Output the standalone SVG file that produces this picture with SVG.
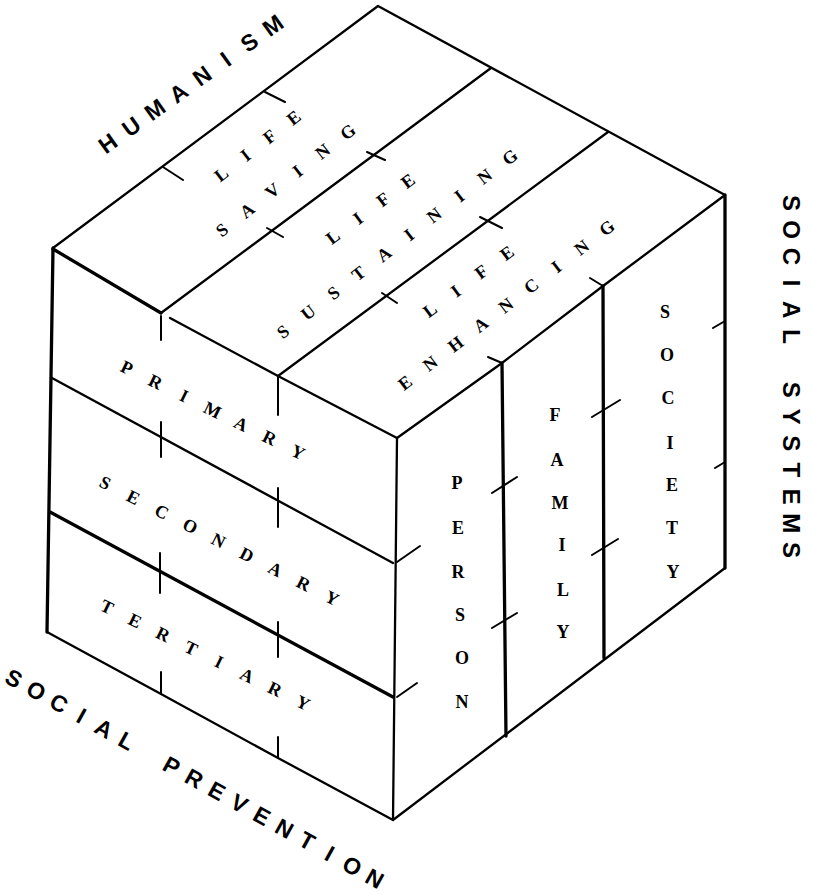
<svg xmlns="http://www.w3.org/2000/svg" width="813" height="895" viewBox="0 0 813 895">
<style>
.ln{stroke:#000;stroke-width:2.3;fill:none;stroke-linecap:round;stroke-linejoin:round}
.thk{stroke-width:3.3}
.tk{stroke:#000;stroke-width:2;fill:none;stroke-linecap:round}
.cell{font-family:"Liberation Serif","DejaVu Serif",serif;font-weight:bold;font-size:18px;fill:#000;text-anchor:middle}
.title{font-family:"Liberation Sans","DejaVu Sans",sans-serif;font-weight:bold;font-size:23px;fill:#000;text-anchor:middle}
</style>
<rect width="813" height="895" fill="#fff"/>
<g id="connectors">
  <g id="cube-edges">
    <path class="ln" d="M53,248 L378,6 L725,195"/>
    <path class="ln thk" d="M53,249 L161,313"/>
    <path class="ln" d="M170,318 L278,376 L397,438"/>
    <path class="ln" d="M397,438 L502,363 L603,286 L725,195"/>
    <path class="ln thk" d="M53,248 L47,632"/>
    <path class="ln" d="M397,438 L393,820"/>
    <path class="ln thk" d="M725,195 L725,568"/>
    <path class="ln" d="M47,632 L161,694 L278,758 L393,820 L725,568"/>
  </g>
  <g id="grid-lines">
    <path class="ln" d="M161,313 L491,68"/>
    <path class="ln" d="M278,376 L608,132"/>
    <path class="ln" d="M52,378 L393,563"/>
    <path class="ln thk" d="M50,512 L393,697"/>
    <path class="ln thk" d="M502,363 L506,736"/>
    <path class="ln thk" d="M603,286 L604,658"/>
  </g>
  <g id="ticks">
    <path class="tk" d="M163,167 L183,180 M265,92 L285,102"/>
    <path class="tk" d="M267,228 L283,237 M367,152 L385,160 M382,293 L397,303 M480,217 L502,228"/>
    <path class="tk" d="M488,357 L502,363 M590,278 L603,286"/>
    <path class="tk" d="M161,316 L161,340 M161,422 L161,457 M160,553 L160,593 M161,672 L161,694"/>
    <path class="tk" d="M278,376 L278,415 M278,488 L278,527 M278,622 L278,657 M278,737 L278,758"/>
    <path class="tk" d="M397,562 L420,546 M397,697 L417,683"/>
    <path class="tk" d="M492,493 L517,477 M492,628 L517,613"/>
    <path class="tk" d="M592,417 L620,400 M592,555 L618,539"/>
    <path class="tk" d="M713,328 L725,321 M715,468 L725,462"/>
  </g>
</g>
<g id="humanism" transform="translate(190,84) rotate(-35.6)">
  <text class="title" x="-101.5 -72.5 -43.5 -14.5 14.5 43.5 72.5 101.5" y="8.5">HUMANISM</text>
</g>
<g id="social-systems" transform="translate(791,376.5) rotate(90)">
  <text class="title" style="font-size:24px" x="-173.55 -146.85 -120.15 -93.45 -66.75 -40.05 -13.35 13.35 40.05 66.75 93.45 120.15 146.85 173.55" y="8.5">SOCIAL SYSTEMS</text>
</g>
<g id="social-prevention" transform="translate(194.5,778) rotate(29)">
  <text class="title" x="-206.4 -180.6 -154.8 -129 -103.2 -77.4 -51.6 -25.8 0 25.8 51.6 77.4 103.2 129 154.8 180.6 206.4" y="8.5">SOCIAL PREVENTION</text>
</g>
<g id="life-saving">
  <g transform="translate(257.5,146) rotate(-38)"><text class="cell" x="-45.9 -15.3 15.3 45.9" y="6">LIFE</text></g>
  <g transform="translate(285,181) rotate(-37.9)"><text class="cell" x="-79.8 -47.9 -16 16 47.9 79.8" y="6">SAVING</text></g>
</g>
<g id="life-sustaining">
  <g transform="translate(370.5,209) rotate(-36.7)"><text class="cell" x="-46.8 -15.6 15.6 46.8" y="6">LIFE</text></g>
  <g transform="translate(396.5,244.5) rotate(-37.6)"><text class="cell" x="-143.1 -111.3 -79.5 -47.7 -15.9 15.9 47.7 79.5 111.3 143.1" y="6">SUSTAINING</text></g>
</g>
<g id="life-enhancing">
  <g transform="translate(468.5,281.5) rotate(-36.5)"><text class="cell" x="-47.9 -16 16 47.9" y="6">LIFE</text></g>
  <g transform="translate(506,305.5) rotate(-37.5)"><text class="cell" x="-127.2 -95.4 -63.6 -31.8 0 31.8 63.6 95.4 127.2" y="6">ENHANCING</text></g>
</g>
<g id="primary" transform="translate(212.5,410) rotate(26.2)">
  <text class="cell" x="-95.4 -63.6 -31.8 0 31.8 63.6 95.4" y="6">PRIMARY</text>
</g>
<g id="secondary" transform="translate(218.5,540.5) rotate(26.9)">
  <text class="cell" x="-127.2 -95.4 -63.6 -31.8 0 31.8 63.6 95.4 127.2" y="6">SECONDARY</text>
</g>
<g id="tertiary" transform="translate(205,655) rotate(26.1)">
  <text class="cell" x="-109.2 -78 -46.8 -15.6 15.6 46.8 78 109.2" y="6">TERTIARY</text>
</g>
<g id="person">
  <text class="cell" x="457 458 458 460 462 462" y="489 534 578 621 664 708">PERSON</text>
</g>
<g id="family">
  <text class="cell" x="555 557 560 562 563 563" y="421 466 509 551 596 638">FAMILY</text>
</g>
<g id="society">
  <text class="cell" x="665 667 668 670 672 672 673" y="318 361 404 449 491 534 578">SOCIETY</text>
</g>
</svg>
